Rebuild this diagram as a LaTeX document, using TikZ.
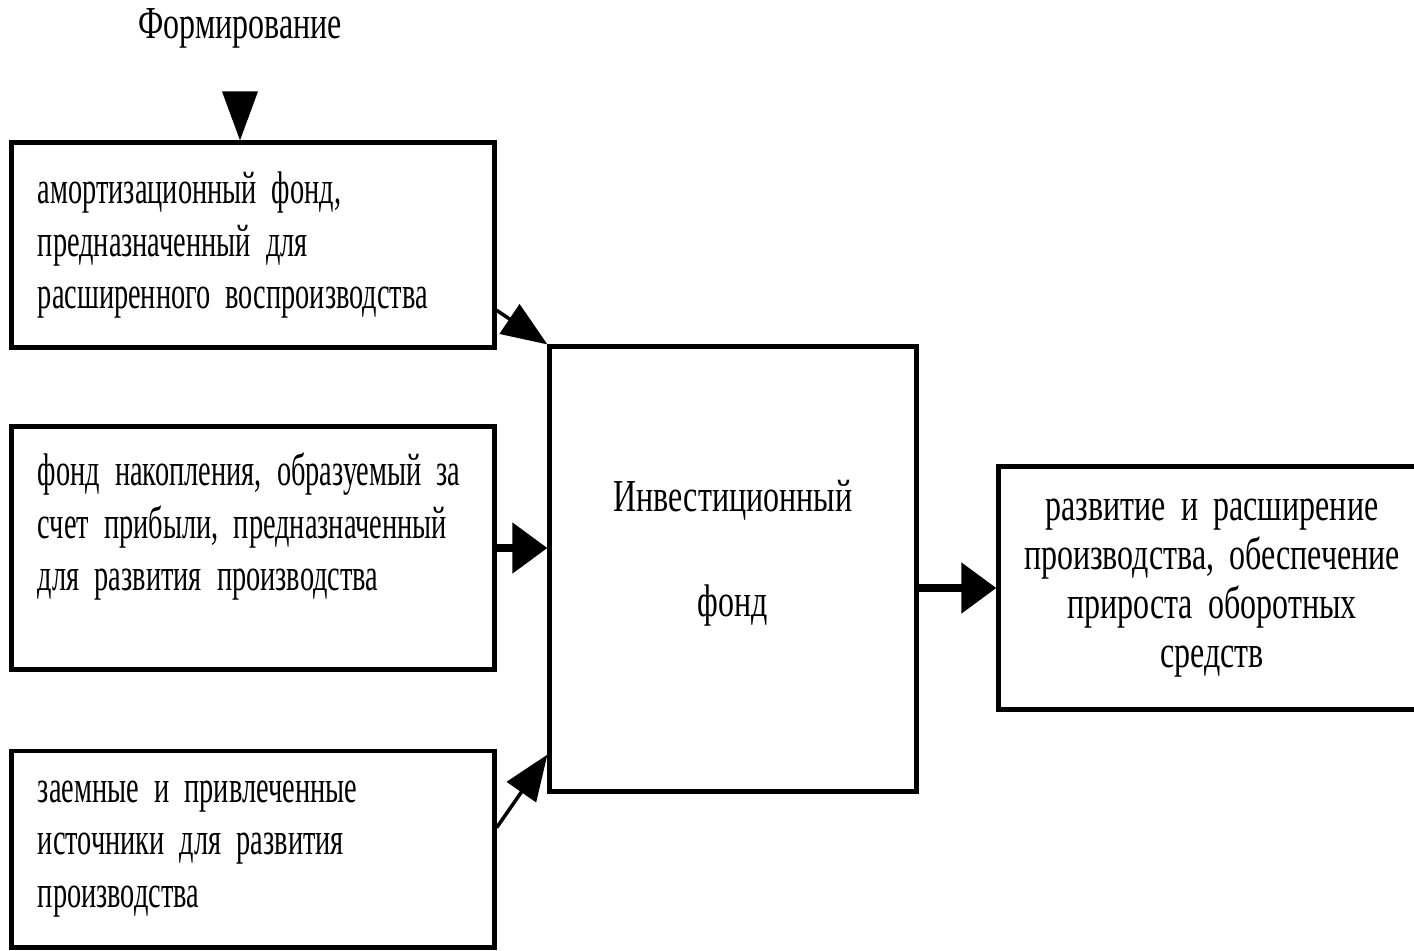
\documentclass[tikz,border=0pt]{standalone}
\usepackage{fontspec}
\setmainfont{Liberation Serif}[FakeStretch=0.70]
\newfontfamily\sourcefont{Liberation Serif}[FakeStretch=0.62]
\usetikzlibrary{arrows.meta}
\tikzset{
	fundbox/.style={draw, line width=1.4pt, inner xsep=0.26cm, inner ysep=0pt},
	leftbox/.style={fundbox, text width=4.3cm, align=left, minimum width=4.82cm,
		node font=\sourcefont\fontsize{13pt}{15pt}\selectfont},
	boldarrow/.style={line width=2.3pt, -{Triangle[length=10pt,width=14pt]}},
	thinarrow/.style={line width=1pt, -{Triangle[length=13pt,width=10pt]}},
	toparrow/.style={line width=1pt, -{Triangle[length=14pt,width=10pt]}}
}
\begin{document}
\begin{tikzpicture}[x=0.01cm, y=-0.01cm, node font=\fontsize{13pt}{15pt}\selectfont]
			\useasboundingbox (0,0) rectangle (1414,950);
			\clip (0,0) rectangle (1414,950);
			\node (form) at (240,28) {Формирование};
			\coordinate (formtip) at (240,92);
			\node[leftbox, minimum height=2.04cm] (amort) at (253,245) {амортизационный фонд,\\ предназначенный для\\ расширенного воспроизводства};
			\node[leftbox, minimum height=2.43cm] (accum) at (253,548) {фонд накопления, образуемый за\\ счет прибыли, предназначенный\\ для развития производства\\ \mbox{}};
			\node[leftbox, minimum height=1.96cm] (loan) at (253,849) {заемные и привлеченные\\ источники для развития\\ производства};
			\node[fundbox, minimum width=3.66cm, minimum height=4.44cm] (inv) at (733,569) {};
			\node[align=center] (invtext) at (733,553) {Инвестиционный\\[15pt]фонд};
			\node[fundbox, inner xsep=0.1cm, text width=3.95cm, align=center, minimum width=4.26cm, minimum height=2.43cm,
				node font=\fontsize{13pt}{14pt}\selectfont] (dev) at (1212,588) {развитие и расширение\\ производства, обеспечение\\ прироста оборотных\\ средств};
			\draw[toparrow] (formtip) -- (formtip |- amort.north);
			\draw[thinarrow] (amort.-15) -- (inv.north west);
			\draw[boldarrow] (accum.east) -- (accum.east -| inv.west);
			\draw[thinarrow] (loan.5) -- (inv.225);
			\draw[boldarrow] (inv.east |- dev.west) -- (dev.west);
		\end{tikzpicture}
\end{document}
